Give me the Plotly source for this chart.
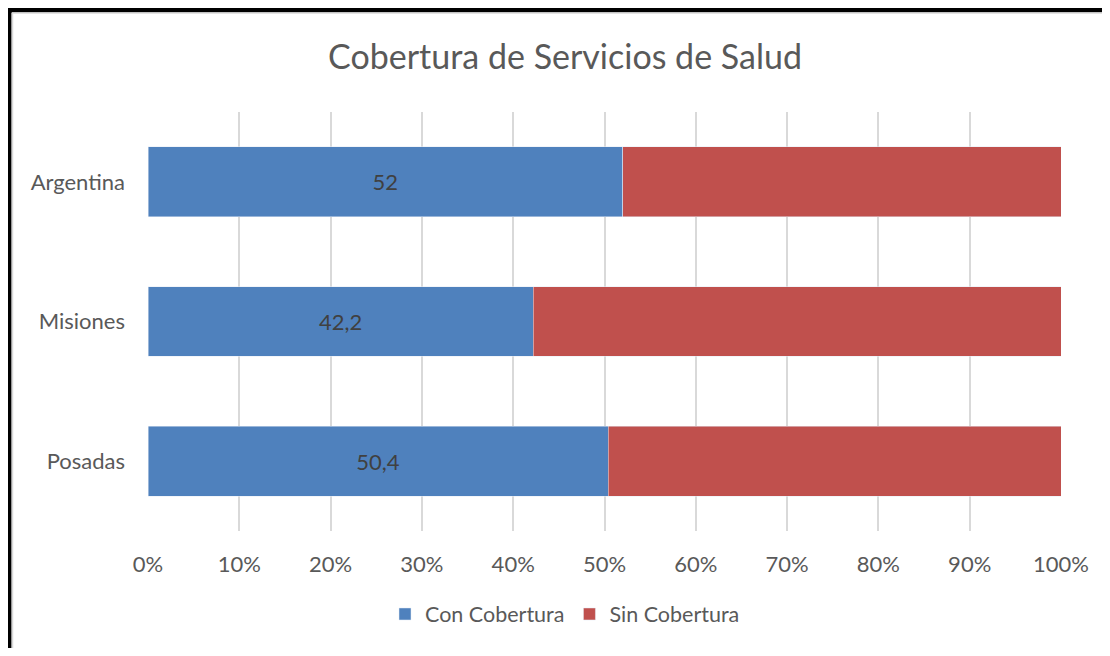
import plotly.graph_objects as go

# data
regiones = ["Argentina", "Misiones", "Posadas"]
con_cobertura = [52, 42.2, 50.4]
sin_cobertura = [48, 57.8, 49.6]
etiquetas_con = ["52", "42,2", "50,4"]
x_ticks = list(range(0, 101, 10))
x_ticktext = [f"{v}%" for v in x_ticks]

# the page has an 8px body margin, so page coords = figure coords + 8
OFF = 8
W, H = 1110 - 2 * OFF, 656 - 2 * OFF
L = 148 - OFF
T = 112 - OFF
R = W - (1061 - OFF)
B = H - (531 - OFF)
gris = "#595959"

fig = go.Figure()
fig.add_trace(go.Bar(
    y=regiones, x=con_cobertura, name="Con Cobertura", orientation="h",
    marker_color="#4F81BD", width=0.5,
    text=etiquetas_con, texttemplate="%{text}",
    textposition="inside", insidetextanchor="middle",
    textfont=dict(color="#404040", size=22),
))
fig.add_trace(go.Bar(
    y=regiones, x=sin_cobertura, name="Sin Cobertura", orientation="h",
    marker_color="#C0504D", width=0.5,
))


def px_x(p):
    # p is a page pixel
    return (p - OFF - L) / (W - L - R)


def px_y(p):
    return (H - B - (p - OFF)) / (H - T - B)


# marco del gráfico (borde negro arriba/izquierda, gris fino)
shapes = [
    dict(type="line", xref="paper", yref="paper", x0=px_x(9), x1=px_x(9),
         y0=px_y(8), y1=px_y(660), line=dict(color="black", width=5)),
    dict(type="line", xref="paper", yref="paper", x0=px_x(7), x1=px_x(1110),
         y0=px_y(10), y1=px_y(10), line=dict(color="black", width=5)),
    dict(type="line", xref="paper", yref="paper", x0=px_x(12), x1=px_x(1110),
         y0=px_y(13), y1=px_y(13), line=dict(color="#D9D9D9", width=1.5)),
    dict(type="line", xref="paper", yref="paper", x0=px_x(12.5), x1=px_x(12.5),
         y0=px_y(13), y1=px_y(660), line=dict(color="#D9D9D9", width=1.5)),
]

fig.update_layout(
    width=W, height=H,
    margin=dict(l=L, r=R, t=T, b=B),
    barmode="stack",
    separators=",.",
    plot_bgcolor="white", paper_bgcolor="white",
    font=dict(family="Lato", color=gris, size=22),
    title=dict(text="Cobertura de Servicios de Salud", x=px_x(565), xref="paper",
               xanchor="center", y=1 - (57 - OFF) / H, yanchor="middle",
               font=dict(size=34, color=gris)),
    xaxis=dict(range=[0, 100], tickmode="array", tickvals=x_ticks,
               ticktext=x_ticktext,
               showgrid=True, gridcolor="#D9D9D9", gridwidth=1.5,
               zeroline=False, showline=False, ticks="", ticklabelstandoff=18),
    yaxis=dict(autorange="reversed", showgrid=False, zeroline=False,
               showline=False, ticks="", ticklabelstandoff=22),
    legend=dict(orientation="h", x=px_x(565), xanchor="center",
                y=px_y(614), yanchor="middle", traceorder="normal",
                font=dict(size=21.5), itemwidth=30),
    showlegend=True,
    shapes=shapes,
)

fig.write_html("out.html")
